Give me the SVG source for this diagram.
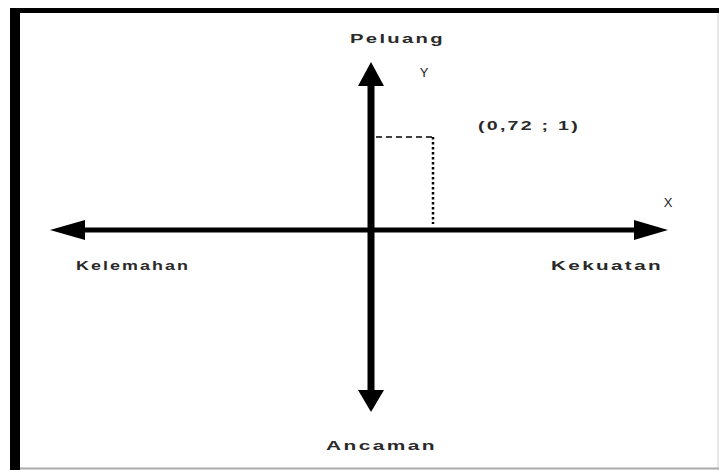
<svg xmlns="http://www.w3.org/2000/svg" width="719" height="470" viewBox="0 0 719 470">
<style>
.lbl{font-family:"Liberation Sans",Arial,sans-serif;font-size:13px;font-weight:bold;fill:#2a2a2a;letter-spacing:1.5px}
.thin{font-family:"Liberation Sans",Arial,sans-serif;font-size:13px;fill:#222}
</style>
<rect x="0" y="0" width="719" height="470" fill="#fff"/>
<rect x="10" y="8" width="709" height="5" fill="#000"/>
<rect x="10" y="8" width="10" height="462" fill="#000"/>
<line x1="718" y1="13" x2="718" y2="470" stroke="#e0e0e0" stroke-width="1.5"/>
<line x1="20" y1="468.5" x2="719" y2="468.5" stroke="#aaa" stroke-width="2"/>
<g id="connectors">
<line x1="85" y1="230" x2="636" y2="230" stroke="#000" stroke-width="5"/>
<path d="M50,230 L85,220 L85,240 Z" fill="#000"/>
<path d="M668,230 L634,220 L634,240 Z" fill="#000"/>
<line x1="371" y1="84" x2="371" y2="392" stroke="#000" stroke-width="7"/>
<path d="M371,62 L358,86 L384,86 Z" fill="#000"/>
<path d="M371,412 L358,390 L384,390 Z" fill="#000"/>
<line x1="376" y1="137" x2="432" y2="137" stroke="#000" stroke-width="1.5" stroke-dasharray="6,4"/>
<line x1="433" y1="137" x2="433" y2="224" stroke="#000" stroke-width="2.5" stroke-dasharray="2.5,2.5"/>
</g>
<g id="peluang"><text class="lbl" x="350" y="43" textLength="95" lengthAdjust="spacingAndGlyphs">Peluang</text></g>
<g id="y-label"><text class="thin" x="424" y="77" text-anchor="middle">Y</text></g>
<g id="point"><text class="lbl" x="478" y="130" textLength="102" lengthAdjust="spacingAndGlyphs">(0,72 ; 1)</text></g>
<g id="x-label"><text class="thin" x="668" y="207" text-anchor="middle">X</text></g>
<g id="kelemahan"><text class="lbl" x="76" y="270" textLength="114" lengthAdjust="spacingAndGlyphs">Kelemahan</text></g>
<g id="kekuatan"><text class="lbl" x="551" y="270" textLength="112" lengthAdjust="spacingAndGlyphs">Kekuatan</text></g>
<g id="ancaman"><text class="lbl" x="326" y="450" textLength="111" lengthAdjust="spacingAndGlyphs">Ancaman</text></g>
</svg>
